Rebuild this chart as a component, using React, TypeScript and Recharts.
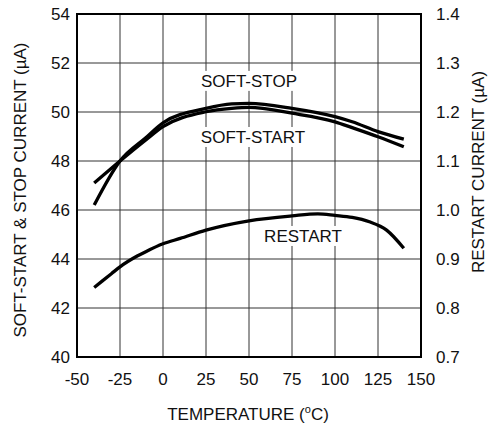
import { LineChart, Line, XAxis, YAxis, CartesianGrid, ReferenceArea, ReferenceDot } from 'recharts';

const temps = [-40, -25, -10, 0, 25, 40, 50, 75, 100, 110, 125, 140];
const softStop = [46.2, 48.0, 48.95, 49.56, 50.15, 50.33, 50.35, 50.15, 49.81, 49.6, 49.2, 48.89];
const softStart = [47.1, 48.0, 48.86, 49.4, 50.01, 50.15, 50.19, 49.95, 49.6, 49.36, 48.99, 48.58];

const restartTemps = [-40, -30, -25, -15, -10, 0, 10, 25, 50, 75, 90, 100, 110, 120, 130, 140];
const restart = [0.842, 0.87, 0.884, 0.906, 0.915, 0.931, 0.942, 0.959, 0.978, 0.988, 0.992, 0.989, 0.985, 0.976, 0.959, 0.922];

const xTicks = [-50, -25, 0, 25, 50, 75, 100, 125, 150];
const leftTicks = [40, 42, 44, 46, 48, 50, 52, 54];
const rightTicks = [0.7, 0.8, 0.9, 1.0, 1.1, 1.2, 1.3, 1.4];

const labels = [
  { text: 'SOFT-STOP', x: 50, y: 51.27 },
  { text: 'SOFT-START', x: 52.3, y: 48.98 },
  { text: 'RESTART', x: 81.4, y: 44.94 },
];

const FONT = '"Liberation Sans", Arial, sans-serif';

const stopData = temps.map((t, i) => ({ t, v: softStop[i] }));
const startData = temps.map((t, i) => ({ t, v: softStart[i] }));
const restartData = restartTemps.map((t, i) => ({ t, r: restart[i] }));

const XTick = (props: any) => {
  const { x, y, payload } = props;
  return (
    <text x={x} y={y + 20} textAnchor="middle" fontSize={17} fontFamily={FONT} fill="#111">
      {payload.value}
    </text>
  );
};

const LeftTick = (props: any) => {
  const { x, y, payload } = props;
  return (
    <text x={x + 1} y={y + 6} textAnchor="end" fontSize={17} fontFamily={FONT} fill="#111">
      {payload.value}
    </text>
  );
};

const RightTick = (props: any) => {
  const { x, y, payload } = props;
  return (
    <text x={x + 7} y={y + 6} textAnchor="start" fontSize={17} fontFamily={FONT} fill="#111">
      {Number(payload.value).toFixed(1)}
    </text>
  );
};

const makeLabel = (text: string) => (props: any) => {
  const { viewBox } = props;
  const cx = viewBox.x + (viewBox.width || 0) / 2;
  const cy = viewBox.y + (viewBox.height || 0) / 2;
  const w = text.length * 10.6;
  return (
    <g>
      <rect x={cx - w / 2} y={cy - 10} width={w} height={20} fill="#fff" />
      <text x={cx} y={cy + 6} textAnchor="middle" fontSize={17} fontFamily={FONT} fill="#111">
        {text}
      </text>
    </g>
  );
};

export default function App() {
  return (
    <div style={{ position: 'absolute', left: 0, top: 0, width: 498, height: 426, background: '#fff' }}>
      <LineChart width={498} height={426} margin={{ top: 14, right: 0, bottom: 0, left: 0 }}>
        <CartesianGrid yAxisId="left" stroke="#333" strokeWidth={1} />
        <XAxis
          dataKey="t"
          type="number"
          domain={[-50, 150]}
          ticks={xTicks}
          allowDuplicatedCategory={false}
          tick={<XTick />}
          tickLine={false}
          axisLine={{ stroke: '#000', strokeWidth: 2 }}
          height={69}
        />
        <YAxis
          yAxisId="left"
          domain={[40, 54]}
          ticks={leftTicks}
          tick={<LeftTick />}
          tickLine={false}
          axisLine={{ stroke: '#000', strokeWidth: 2 }}
          width={77}
        />
        <YAxis
          yAxisId="right"
          orientation="right"
          domain={[0.7, 1.4]}
          ticks={rightTicks}
          tick={<RightTick />}
          tickLine={false}
          axisLine={{ stroke: '#000', strokeWidth: 2 }}
          width={77}
        />
        {labels.map((l) => (
          <ReferenceDot
            key={l.text}
            yAxisId="left"
            x={l.x}
            y={l.y}
            r={0}
            fill="none"
            stroke="none"
            label={makeLabel(l.text)}
          />
        ))}
        <Line yAxisId="left" data={stopData} dataKey="v" type="monotone" stroke="#000" strokeWidth={3.3} dot={false} isAnimationActive={false} />
        <Line yAxisId="left" data={startData} dataKey="v" type="monotone" stroke="#000" strokeWidth={3.3} dot={false} isAnimationActive={false} />
        <Line yAxisId="right" data={restartData} dataKey="r" type="monotone" stroke="#000" strokeWidth={3.3} dot={false} isAnimationActive={false} />
        <ReferenceArea yAxisId="left" x1={-50} x2={150} y1={40} y2={54} fill="#fff" fillOpacity={0} stroke="#000" strokeWidth={2} />
        <text x={248} y={420} textAnchor="middle" fontSize={17} fontFamily={FONT} fill="#111">
          TEMPERATURE (<tspan dy={-7} fontSize={11}>o</tspan><tspan dy={7}>C)</tspan>
        </text>
        <text x={26} y={190} transform="rotate(-90 26 190)" textAnchor="middle" fontSize={17} fontFamily={FONT} fill="#111">
          SOFT-START &amp; STOP CURRENT (µA)
        </text>
        <text x={484} y={172} transform="rotate(-90 484 172)" textAnchor="middle" fontSize={17} fontFamily={FONT} fill="#111">
          RESTART CURRENT (µA)
        </text>
      </LineChart>
    </div>
  );
}
